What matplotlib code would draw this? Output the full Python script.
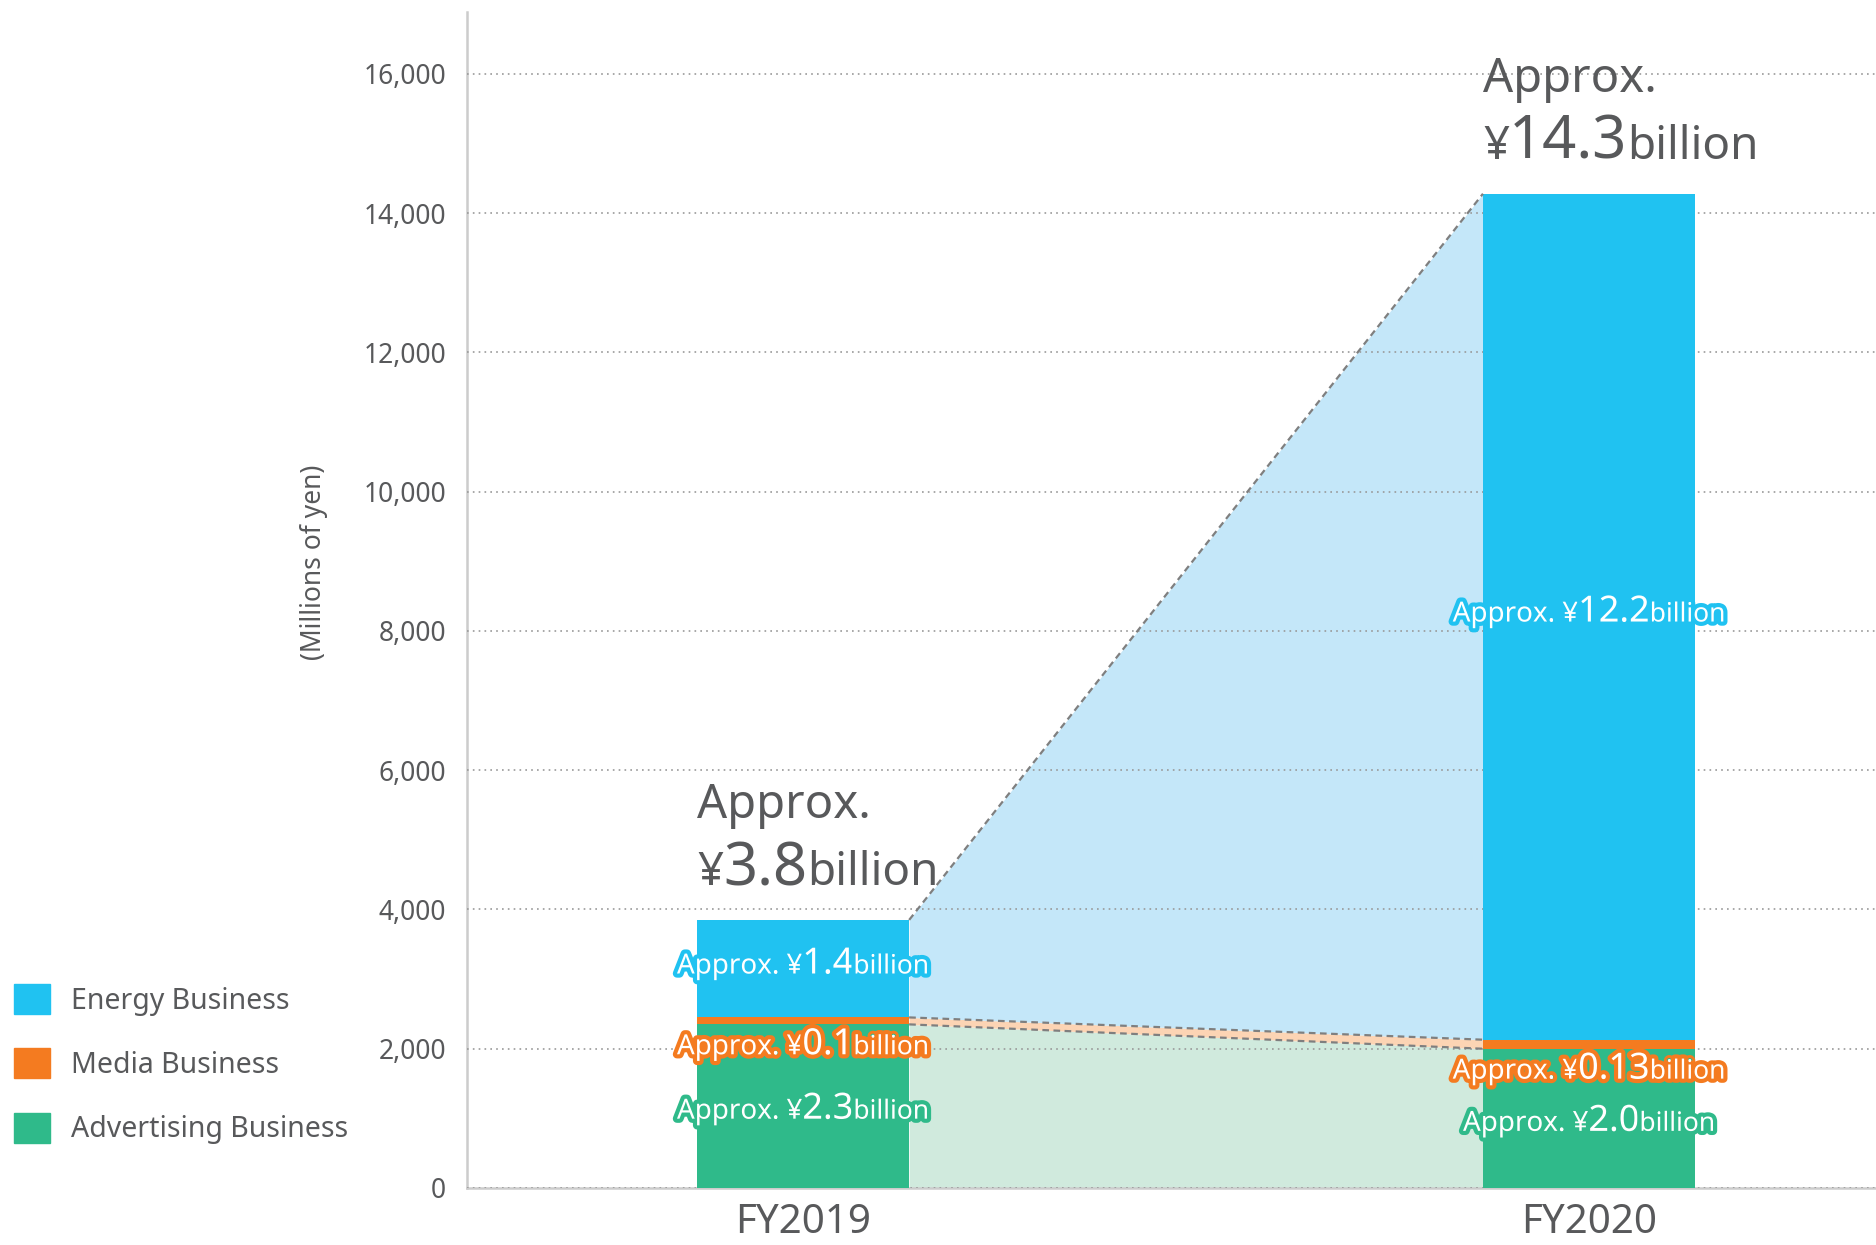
import matplotlib
matplotlib.use("Agg")
from matplotlib import pyplot as plt
from matplotlib.patches import Patch
from matplotlib.offsetbox import TextArea, HPacker, VPacker, AnnotationBbox
import matplotlib.patheffects as pe

plt.rcParams['font.family'] = ['Noto Sans', 'DejaVu Sans']

years = ['FY2019', 'FY2020']
advertising = [2350, 2000]
media = [100, 130]
energy = [1400, 12150]
totals_txt = ['3.8', '14.3']
adv_txt = ['2.3', '2.0']
media_txt = ['0.1', '0.13']
energy_txt = ['1.4', '12.2']
yticks = [0, 2000, 4000, 6000, 8000, 10000, 12000, 14000, 16000]

c_energy = '#20c2f1'
c_media = '#f47b20'
c_adv = '#2fba8a'
l_energy = '#c4e7f9'
l_media = '#fcd4b4'
l_adv = '#d0eadd'
grey = '#58595b'

fig = plt.figure(figsize=(18.76, 12.45), dpi=100)
ax = fig.add_axes([467/1876, 1-1188/1245, 1-467/1876, 1176/1245])

x = [0, 1]
w = 0.27
media_bot = [a for a in advertising]
energy_bot = [a + m for a, m in zip(advertising, media)]
totals = [a + m + e for a, m, e in zip(advertising, media, energy)]

# connecting bands between the two bars
xs = [x[0] + w/2, x[1] - w/2]
ax.fill_between(xs, [0, 0], advertising, color=l_adv, lw=0, zorder=1)
ax.fill_between(xs, media_bot, energy_bot, color=l_media, lw=0, zorder=1)
ax.fill_between(xs, energy_bot, totals, color=l_energy, lw=0, zorder=1)
for ys in (advertising, energy_bot, totals):
    ax.plot(xs, ys, ls=(0, (3, 2)), color='#7f7f7f', lw=1.6, zorder=4)

ax.bar(x, advertising, width=w, color=c_adv, zorder=3)
ax.bar(x, media, width=w, bottom=media_bot, color=c_media, zorder=3)
ax.bar(x, energy, width=w, bottom=energy_bot, color=c_energy, zorder=3)

ax.set_xlim(-0.4275, 1.365)
ax.set_ylim(0, 16890)
ax.set_yticks(yticks)
ax.set_yticklabels([f'{v:,}' for v in yticks])
ax.set_xticks(x)
ax.set_xticklabels(years)
ax.yaxis.grid(True, ls=(0, (1, 2.5)), color='#999999', lw=1.2, zorder=2)
ax.set_axisbelow(False)
ax.tick_params(axis='y', length=0, pad=15, labelsize=19, labelcolor=grey)
ax.tick_params(axis='x', length=0, pad=11, labelsize=29, labelcolor=grey)
for s in ('top', 'right'):
    ax.spines[s].set_visible(False)
for s in ('left', 'bottom'):
    ax.spines[s].set_color('#cccccc')
    ax.spines[s].set_linewidth(1.8)
for gl in ax.yaxis.get_gridlines():
    gl.set_zorder(2)


def seg_label(xc, yc, num, col):
    stroke = [pe.withStroke(linewidth=6, foreground=col)]
    kw = dict(color='white', path_effects=stroke)
    parts = [TextArea('Approx. ¥', textprops=dict(fontsize=20, **kw)),
             TextArea(num, textprops=dict(fontsize=26, **kw)),
             TextArea('billion', textprops=dict(fontsize=19, **kw))]
    box = HPacker(children=parts, align='baseline', pad=0, sep=0)
    ab = AnnotationBbox(box, (xc, yc), xycoords='data', frameon=False,
                        pad=0, box_alignment=(0.5, 0.5), zorder=6)
    ax.add_artist(ab)


for i in range(2):
    seg_label(x[i], energy_bot[i] + energy[i] / 2 + 60, energy_txt[i], c_energy)
    seg_label(x[i], media_bot[i] - 300, media_txt[i], c_media)
    seg_label(x[i], advertising[i] / 2 - 50, adv_txt[i], c_adv)

    line1 = TextArea('Approx.', textprops=dict(fontsize=34, color=grey, weight='medium'))
    line2 = HPacker(children=[
        TextArea('¥', textprops=dict(fontsize=33, color=grey, weight='medium')),
        TextArea(totals_txt[i], textprops=dict(fontsize=43, color=grey, weight='bold')),
        TextArea('billion', textprops=dict(fontsize=33, color=grey, weight='medium'))],
        align='baseline', pad=0, sep=0)
    big = VPacker(children=[line1, line2], align='left', pad=0, sep=7)
    ab = AnnotationBbox(big, (x[i] - w/2, totals[i]), xycoords='data',
                        xybox=(0, 15), boxcoords='offset points',
                        frameon=False, pad=0, box_alignment=(0, 0), zorder=6)
    ax.add_artist(ab)

fig.text(314/1876, 1-562/1245, '(Millions of yen)', rotation=90,
         ha='center', va='center', fontsize=19, color=grey)

handles = [Patch(color=c_energy), Patch(color=c_media), Patch(color=c_adv)]
fig.legend(handles, ['Energy Business', 'Media Business', 'Advertising Business'],
           loc='upper left', bbox_to_anchor=(14/1876, 1-984/1245), frameon=False,
           borderpad=0, borderaxespad=0, handlelength=1.25, handleheight=1.25,
           handletextpad=0.75, labelspacing=1.15, fontsize=20.5, labelcolor=grey)

fig.savefig('out.png', dpi=100)
